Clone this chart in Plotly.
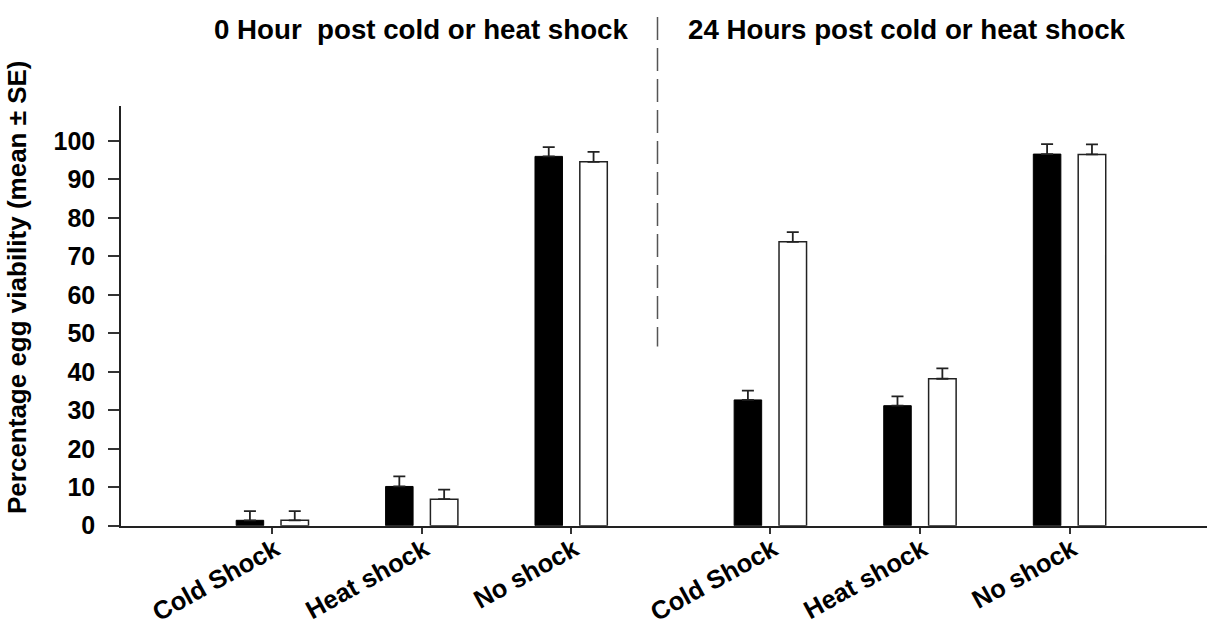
import plotly.graph_objects as go

categories = ["Cold Shock", "Heat shock", "No shock"]

# 0 hour post shock
h0_black = [1.4, 10.2, 96.0]
h0_black_se = [2.4, 2.6, 2.4]
h0_white = [1.4, 6.9, 94.6]
h0_white_se = [2.4, 2.5, 2.6]

# 24 hours post shock
h24_black = [32.7, 31.2, 96.6]
h24_black_se = [2.4, 2.4, 2.6]
h24_white = [73.8, 38.2, 96.5]
h24_white_se = [2.5, 2.7, 2.6]

y_ticks = list(range(0, 101, 10))

FONT = "Liberation Sans, Arial, sans-serif"
W, H = 1207, 631

BW = 0.184
OFF = 0.15

fig = go.Figure()

def add_pair(black, black_se, white, white_se, xa, ya):
    fig.add_trace(go.Bar(
        x=categories, y=black, width=BW, offset=-OFF - BW / 2,
        marker=dict(color="black", line=dict(color="black", width=1)),
        error_y=dict(type="data", array=black_se, arrayminus=[0] * len(black_se),
                     symmetric=False, width=6, thickness=1.8, color="#222"),
        xaxis=xa, yaxis=ya, showlegend=False))
    fig.add_trace(go.Bar(
        x=categories, y=white, width=BW, offset=OFF - BW / 2,
        marker=dict(color="white", line=dict(color="#222", width=1.5)),
        error_y=dict(type="data", array=white_se, arrayminus=[0] * len(white_se),
                     symmetric=False, width=6, thickness=1.8, color="#222"),
        xaxis=xa, yaxis=ya, showlegend=False))

add_pair(h0_black, h0_black_se, h0_white, h0_white_se, "x", "y")
add_pair(h24_black, h24_black_se, h24_white, h24_white_se, "x2", "y2")

px_left, px_mid, px_right = 121, 620, 1207
y0_px, ytop_px = 525.7, 106
ymax = 109.1

ydom = [(H - y0_px) / H, (H - ytop_px) / H]
xtickfont = dict(family=FONT, size=25.5, color="black", weight="bold")
ytickfont = dict(family=FONT, size=25, color="black", weight="bold")

xcommon = dict(type="category", showline=True, linecolor="#222", linewidth=2,
               ticks="outside", ticklen=6, tickwidth=1.5, tickcolor="#333",
               tickangle=-29, tickfont=xtickfont, showgrid=False, zeroline=False,
               ticklabelstandoff=-9, ticklabelshift=3, automargin=False)

fig.update_layout(
    template="none",
    width=W, height=H,
    margin=dict(l=0, r=0, t=0, b=0, autoexpand=False),
    paper_bgcolor="white", plot_bgcolor="rgba(0,0,0,0)",
    barmode="overlay",
    xaxis=dict(domain=[px_left / W, px_mid / W], range=[-1.013, 2.327],
               anchor="y", **xcommon),
    xaxis2=dict(domain=[px_mid / W, 1.0], range=[-1.005, 2.919],
                anchor="y2", **xcommon),
    yaxis=dict(domain=ydom, range=[0, ymax], tickvals=y_ticks,
               showline=True, linecolor="#222", linewidth=1.5,
               ticks="outside", ticklen=11, tickwidth=1.5, tickcolor="#333",
               tickfont=ytickfont, ticklabelstandoff=8, automargin=False,
               showgrid=False, zeroline=False, anchor="x"),
    yaxis2=dict(domain=ydom, range=[0, ymax], visible=False, anchor="x2",
                automargin=False),
)

# Vertical dashed separator
fig.add_shape(type="line", xref="paper", yref="paper",
              x0=657.5 / W, x1=657.5 / W, y0=(H - 17) / H, y1=(H - 346.5) / H,
              line=dict(color="#555", width=1.5, dash="23px,8px"))

title_font = dict(family=FONT, size=27.7, color="black", weight="bold")
fig.add_annotation(text="0 Hour&nbsp; post cold or heat shock", xref="paper", yref="paper",
                   x=421 / W, y=(H - 30) / H, showarrow=False, font=title_font,
                   xanchor="center", yanchor="middle")
fig.add_annotation(text="24 Hours post cold or heat shock", xref="paper", yref="paper",
                   x=907 / W, y=(H - 30) / H, showarrow=False, font=title_font,
                   xanchor="center", yanchor="middle")
fig.add_annotation(text="Percentage egg viability (mean ± SE)", xref="paper", yref="paper",
                   x=17 / W, y=(H - 287) / H, showarrow=False, textangle=-90,
                   font=dict(family=FONT, size=26, color="black", weight="bold"),
                   xanchor="center", yanchor="middle")

fig.write_html("out.html")
